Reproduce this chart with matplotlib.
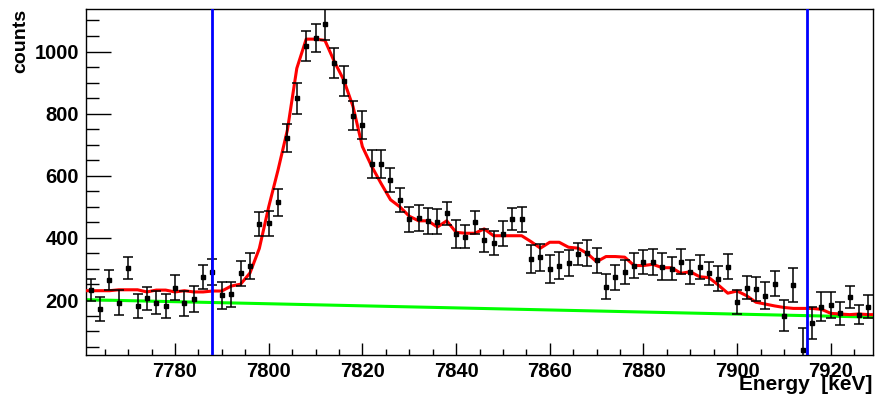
import numpy as np
import matplotlib
matplotlib.use("Agg")
import matplotlib.pyplot as plt
from matplotlib.ticker import MultipleLocator

plt.rcParams["font.family"] = ["Liberation Sans", "DejaVu Sans"]
plt.rcParams["font.weight"] = "bold"

# bin centres, 2 keV bins
energy = np.arange(7762, 7930, 2)

counts = [232, 170, 264, 192, 303, 181, 205, 192, 181, 240,
          189, 204, 273, 290, 215, 218, 286, 310, 444, 447,
          515, 723, 849, 1019, 1043, 1090, 963, 905, 793, 764,
          638, 638, 587, 522, 460, 463, 453, 452, 479, 414,
          404, 450, 392, 383, 414, 460, 460, 332, 337, 299,
          311, 319, 349, 352, 328, 243, 273, 290, 311, 323,
          323, 307, 301, 323, 290, 307, 286, 269, 307, 193,
          240, 235, 214, 253, 150, 248, 40, 125, 179, 184,
          157, 210, 153, 179]

errors = [35, 39, 33, 39, 35, 39, 37, 37, 40, 40,
          40, 41, 39, 42, 43, 41, 40, 41, 39, 41,
          43, 45, 49, 48, 45, 53, 49, 48, 47, 45,
          45, 45, 39, 38, 40, 42, 42, 40, 36, 45,
          36, 36, 37, 38, 40, 36, 40, 46, 43, 45,
          44, 42, 36, 42, 41, 40, 41, 40, 39, 39,
          42, 43, 38, 40, 39, 38, 37, 39, 40, 39,
          38, 39, 43, 41, 50, 54, 70, 52, 48, 43,
          36, 35, 31, 36]

fit = [230, 230, 230, 233, 233, 233, 226, 232, 232, 226,
       230, 226, 226, 229, 229, 245, 251, 287, 366, 500,
       619, 748, 946, 1040, 1040, 1036, 968, 909, 823, 694,
       630, 575, 523, 500, 470, 455, 455, 435, 455, 418,
       415, 415, 429, 407, 407, 407, 407, 388, 367, 386,
       386, 370, 367, 350, 323, 340, 340, 338, 311, 311,
       315, 304, 304, 286, 291, 275, 272, 248, 222, 229,
       214, 193, 187, 181, 176, 173, 173, 173, 170, 157,
       155, 153, 155, 153]

# linear background (end points)
bg_energy = [7761, 7929]
bg_counts = [201, 145]

# integration window
window = [7788, 7915]

xlim = (7761, 7929)
ylim = (23, 1137)

fig = plt.figure(figsize=(8.75, 3.98), dpi=100)
ax = fig.add_axes([86 / 875, 43 / 398, 787 / 875, 346 / 398])

fit_x = np.r_[xlim[0], energy, xlim[1]]
fit_y = np.r_[fit[0], fit, fit[-1]]

ax.plot(bg_energy, bg_counts, color="#00ff00", lw=2.2, zorder=2)
ax.plot(fit_x, fit_y, color="#ff0000", lw=2.2, zorder=3)
ax.errorbar(energy, counts, yerr=errors, fmt="s", color="black", ms=3.2,
            elinewidth=1.1, capsize=3.3, capthick=1.1, zorder=4)
for w in window:
    ax.axvline(w, color="#0000ff", lw=2, zorder=5)

ax.set_xlim(*xlim)
ax.set_ylim(*ylim)

ax.xaxis.set_major_locator(MultipleLocator(20))
ax.xaxis.set_minor_locator(MultipleLocator(5))
ax.yaxis.set_major_locator(MultipleLocator(200))
ax.yaxis.set_minor_locator(MultipleLocator(50))
ax.set_yticks([200, 400, 600, 800, 1000])

ax.tick_params(axis="both", which="both", direction="in", top=False, right=False,
               labelsize=14.5, width=1)
ax.tick_params(axis="x", which="major", length=9, pad=5)
ax.tick_params(axis="x", which="minor", length=4.5)
ax.tick_params(axis="y", which="major", length=18, pad=5)
ax.tick_params(axis="y", which="minor", length=9)
for lab in ax.get_xticklabels() + ax.get_yticklabels():
    lab.set_fontweight("bold")
for sp in ax.spines.values():
    sp.set_linewidth(1)

fig.text(872 / 875, 1 - 390 / 398, "Energy  [keV]", ha="right", va="baseline",
         fontsize=15, fontweight="bold")
fig.text(21 / 875, 1 - 9 / 398, "counts", rotation=90, ha="center", va="top",
         fontsize=14, fontweight="bold")

fig.savefig("out.png", dpi=100, facecolor="white")
